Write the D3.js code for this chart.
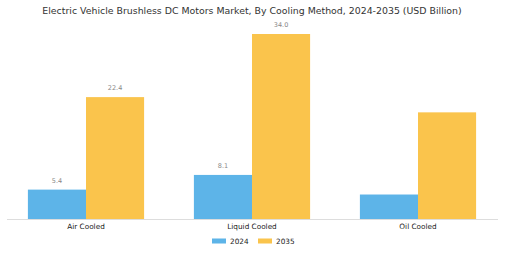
<!DOCTYPE html>
<html>
<head>
<meta charset="utf-8">
<script src="https://cdn.jsdelivr.net/npm/d3@7"></script>
<style>
  body { margin: 0; background: #fff; }
  svg { display: block; font-family: "DejaVu Sans", sans-serif; }
</style>
</head>
<body>
<svg id="chart" width="505" height="253"></svg>
<script>
// data
var categories = ["Air Cooled", "Liquid Cooled", "Oil Cooled"];
var years = ["2024", "2035"];
var values2024 = [5.4, 8.1, 4.5];
var values2035 = [22.4, 34.0, 19.6];
var showLabel = [true, true, false];
var colors = ["#5db4e8", "#fac44c"];

var svg = d3.select("#chart");
var baseY = 219;

var x = d3.scaleBand().domain(categories).range([3, 501])
          .paddingInner(0.3).paddingOuter(0.15);
var xs = d3.scaleBand().domain(years).range([0, x.bandwidth()]);
var y = d3.scaleLinear().domain([0, 34]).range([baseY, 34]);

svg.append("text")
   .attr("x", 252).attr("y", 13.5)
   .attr("text-anchor", "middle")
   .style("font-size", "9.4px").style("fill", "#333")
   .text("Electric Vehicle Brushless DC Motors Market, By Cooling Method, 2024-2035 (USD Billion)");

var rows = categories.map(function(c, i){
  return {cat: c, vals: [values2024[i], values2035[i]], label: showLabel[i]};
});

var g = svg.selectAll("g.cat").data(rows).enter().append("g")
  .attr("class", "cat")
  .attr("transform", d => "translate(" + x(d.cat) + ",0)");

g.selectAll("rect").data(d => d.vals.map((v, j) => ({v: v, yr: years[j], j: j, label: d.label})))
  .enter().append("rect")
  .attr("x", d => xs(d.yr))
  .attr("width", xs.bandwidth())
  .attr("y", d => y(d.v))
  .attr("height", d => y(0) - y(d.v))
  .attr("fill", d => colors[d.j]);

g.selectAll("text.val").data(d => d.vals.map((v, j) => ({v: v, yr: years[j], label: d.label})))
  .enter().filter(d => d.label).append("text")
  .attr("class", "val")
  .attr("x", d => xs(d.yr) + xs.bandwidth() / 2)
  .attr("y", d => y(d.v) - 7)
  .attr("text-anchor", "middle")
  .style("font-size", "6.5px").style("fill", "#888")
  .text(d => d.v.toFixed(1));

// axis
var axis = svg.append("g").attr("transform", "translate(0," + baseY + ")")
  .call(d3.axisBottom(x).tickSize(0).tickPadding(5));
axis.select(".domain").attr("stroke", "#ddd").attr("d", "M7,0.5H498");
axis.selectAll("text").style("font-size", "7.3px").style("fill", "#222")
    .style("font-family", "DejaVu Sans, sans-serif");

// legend
var legend = svg.append("g").attr("transform", "translate(212,241)");
var li = legend.selectAll("g").data(years).enter().append("g")
  .attr("transform", (d, i) => "translate(" + (i * 46) + ",0)");
li.append("rect").attr("x", 0).attr("y", -2.5).attr("width", 14).attr("height", 5)
  .attr("fill", (d, i) => colors[i]);
li.append("text").attr("x", 18).attr("y", 2.5)
  .style("font-size", "7.3px").style("fill", "#222").text(d => d);
</script>
</body>
</html>
